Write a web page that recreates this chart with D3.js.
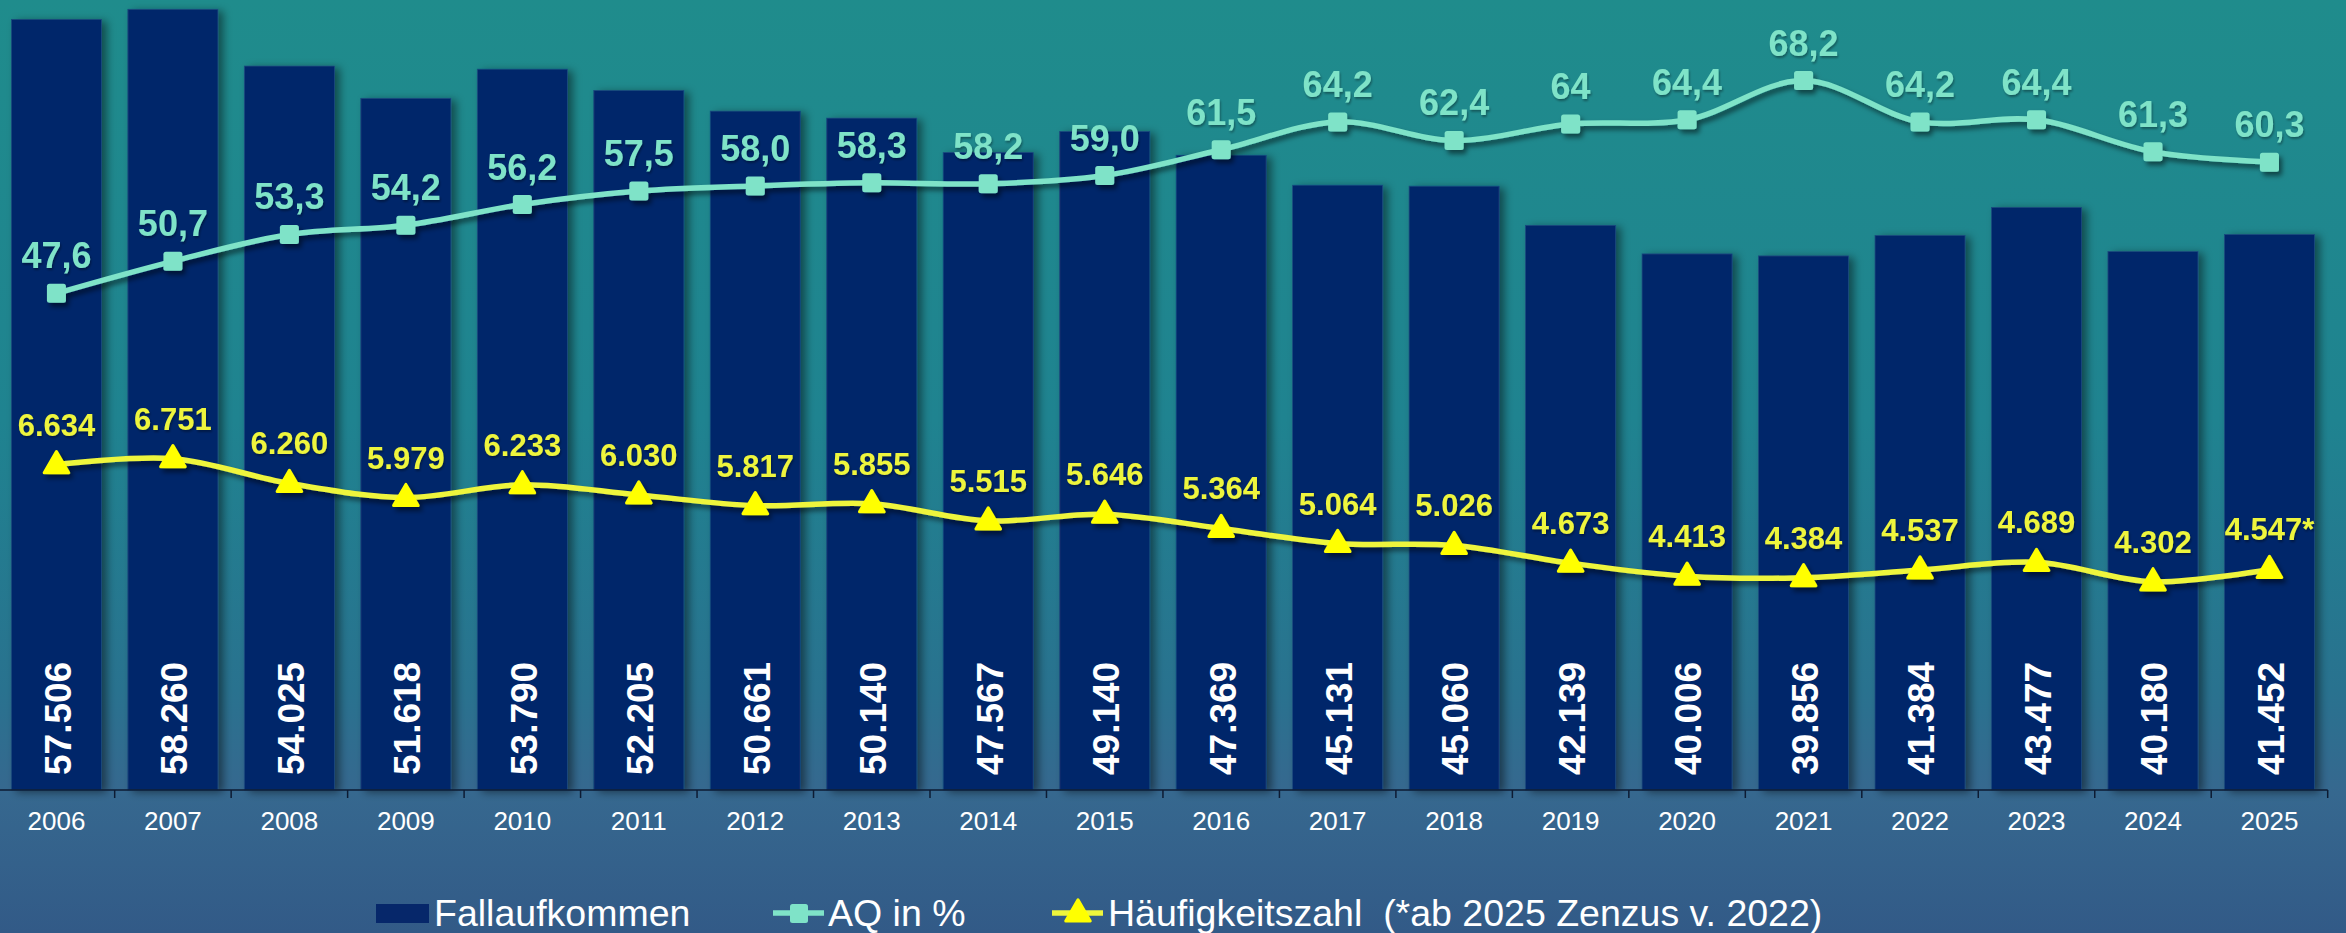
<!DOCTYPE html>
<html>
<head>
<meta charset="utf-8">
<script src="https://cdn.jsdelivr.net/npm/d3@7"></script>
<style>
  html, body { margin: 0; padding: 0; overflow: hidden; }
  svg { display: block; font-family: "Liberation Sans", Arial, sans-serif; }
  .narrow { font-family: "Liberation Sans Narrow", "Arial Narrow", "Liberation Sans", sans-serif; }
</style>
</head>
<body>
<div id="chart"></div>
<script>
// --- data ---
var years = ['2006', '2007', '2008', '2009', '2010', '2011', '2012', '2013', '2014', '2015',
             '2016', '2017', '2018', '2019', '2020', '2021', '2022', '2023', '2024', '2025'];
var fallaufkommen = [57506, 58260, 54025, 51618, 53790, 52205, 50661, 50140, 47567, 49140,
                     47369, 45131, 45060, 42139, 40006, 39856, 41384, 43477, 40180, 41452];
var aq = [47.6, 50.7, 53.3, 54.2, 56.2, 57.5, 58.0, 58.3, 58.2, 59.0,
          61.5, 64.2, 62.4, 64.0, 64.4, 68.2, 64.2, 64.4, 61.3, 60.3];
var aqLabels = ['47,6', '50,7', '53,3', '54,2', '56,2', '57,5', '58,0', '58,3', '58,2', '59,0',
                '61,5', '64,2', '62,4', '64', '64,4', '68,2', '64,2', '64,4', '61,3', '60,3'];
var haeufigkeit = [6634, 6751, 6260, 5979, 6233, 6030, 5817, 5855, 5515, 5646,
                   5364, 5064, 5026, 4673, 4413, 4384, 4537, 4689, 4302, 4547];
var haeufigkeitNote = ['', '', '', '', '', '', '', '', '', '', '', '', '', '', '', '', '', '', '', '*'];
var legendNames = ['Fallaufkommen', 'AQ in %', 'Häufigkeitszahl  (*ab 2025 Zenzus v. 2022)'];

// --- setup ---
var width = 2346, height = 933;
var baseline = 790;
var barColor = '#06276a', aqColor = '#7fe3c8', hzLine = '#eef53c', hzMarker = '#ffff00';

var de = d3.formatLocale({decimal: ',', thousands: '.', grouping: [3], currency: ['', ' €']});
var fmt = de.format(',');

var svg = d3.select('#chart').append('svg')
  .attr('width', width)
  .attr('height', height);

var defs = svg.append('defs');

var grad = defs.append('linearGradient')
  .attr('id', 'bg').attr('x1', 0).attr('y1', 0).attr('x2', 0).attr('y2', 1);
[['0%', '#1f8c8c'], ['45%', '#1f8390'], ['74%', '#29728f'], ['85%', '#36688f'], ['100%', '#325a87']]
  .forEach(function(s) { grad.append('stop').attr('offset', s[0]).attr('stop-color', s[1]); });

function shadow(id, dx, dy, sd, op) {
  defs.append('filter').attr('id', id)
    .attr('x', '-30%').attr('y', '-30%').attr('width', '160%').attr('height', '160%')
    .append('feDropShadow')
    .attr('dx', dx).attr('dy', dy).attr('stdDeviation', sd)
    .attr('flood-color', '#000').attr('flood-opacity', op);
}
shadow('barShadow', 5, 2, 4, 0.45);
shadow('lineShadow', 3, 4, 2.5, 0.5);
shadow('textShadow', 1, 2, 1.2, 0.35);

svg.append('rect').attr('width', width).attr('height', height).attr('fill', 'url(#bg)');

// --- scales ---
var pad = 0.227;
var x = d3.scaleBand().domain(years).range([-1.8, 2327.7]).paddingInner(pad).paddingOuter(pad / 2);
var step = x.step();
var yBar = d3.scaleLinear().domain([0, 60000]).range([baseline, baseline - 60000 * 0.0134]);
var yAq = d3.scaleLinear().domain([0, 76]).range([785, 0]);
var yHz = d3.scaleLinear().domain([0, 15800]).range([798, 4]);
var cx = function(i) { return x(years[i]) + x.bandwidth() / 2; };

// --- bars ---
svg.append('g').attr('filter', 'url(#barShadow)')
  .selectAll('rect').data(fallaufkommen).enter().append('rect')
  .attr('x', function(d, i) { return x(years[i]); })
  .attr('y', function(d) { return yBar(d); })
  .attr('width', x.bandwidth())
  .attr('height', function(d) { return baseline - yBar(d); })
  .attr('fill', barColor)
  .attr('stroke', '#184a7e').attr('stroke-width', 0.8);

svg.append('g').selectAll('text').data(fallaufkommen).enter().append('text')
  .attr('transform', function(d, i) { return 'translate(' + (cx(i) + 1) + ',' + (baseline - 15) + ') rotate(-90)'; })
  .attr('dy', '0.36em')
  .attr('fill', '#fff')
  .attr('font-size', 37).attr('font-weight', 'bold')
  .text(function(d) { return fmt(d); });

// --- x axis ---
var axis = svg.append('g');
axis.append('line')
  .attr('x1', 0).attr('x2', x.range()[1]).attr('y1', baseline).attr('y2', baseline)
  .attr('stroke', '#0d1b33').attr('stroke-width', 1.5);
var bounds = years.map(function(d) { return x(d) - step * pad / 2; }).concat([x.range()[1]]);
axis.selectAll('line.tick').data(bounds).enter().append('line')
  .attr('class', 'tick')
  .attr('x1', function(d) { return d; }).attr('x2', function(d) { return d; })
  .attr('y1', baseline).attr('y2', baseline + 8)
  .attr('stroke', '#0d1b33').attr('stroke-width', 1.5);
axis.selectAll('text').data(years).enter().append('text')
  .attr('x', function(d, i) { return cx(i); })
  .attr('y', 830)
  .attr('text-anchor', 'middle')
  .attr('fill', '#fff').attr('font-size', 26)
  .text(function(d) { return d; });

// --- AQ line ---
var curve = d3.curveCatmullRom.alpha(0.5);
var aqLine = d3.line().x(function(d, i) { return cx(i); }).y(function(d) { return yAq(d); }).curve(curve);
var gAq = svg.append('g').attr('filter', 'url(#lineShadow)');
gAq.append('path').datum(aq)
  .attr('d', aqLine).attr('fill', 'none')
  .attr('stroke', aqColor).attr('stroke-width', 5.5);
gAq.selectAll('rect').data(aq).enter().append('rect')
  .attr('x', function(d, i) { return cx(i) - 9.5; })
  .attr('y', function(d) { return yAq(d) - 9.5; })
  .attr('width', 19).attr('height', 19).attr('rx', 2.5)
  .attr('fill', aqColor);
svg.append('g').attr('filter', 'url(#textShadow)')
  .selectAll('text').data(aq).enter().append('text')
  .attr('class', 'narrow')
  .attr('x', function(d, i) { return cx(i); })
  .attr('y', function(d) { return yAq(d) - 25; })
  .attr('text-anchor', 'middle')
  .attr('fill', aqColor).attr('font-size', 36).attr('font-weight', 'bold')
  .text(function(d, i) { return aqLabels[i]; });

// --- Häufigkeitszahl line ---
var hzPath = d3.line().x(function(d, i) { return cx(i); }).y(function(d) { return yHz(d); }).curve(curve);
var tri = d3.symbol().type(d3.symbolTriangle).size(260);
var gHz = svg.append('g').attr('filter', 'url(#lineShadow)');
gHz.append('path').datum(haeufigkeit)
  .attr('d', hzPath).attr('fill', 'none')
  .attr('stroke', hzLine).attr('stroke-width', 5.5);
gHz.selectAll('path.marker').data(haeufigkeit).enter().append('path')
  .attr('class', 'marker')
  .attr('d', tri)
  .attr('transform', function(d, i) { return 'translate(' + cx(i) + ',' + (yHz(d) + 1) + ')'; })
  .attr('fill', hzMarker)
  .attr('stroke', hzMarker).attr('stroke-width', 3).attr('stroke-linejoin', 'round');
svg.append('g').attr('filter', 'url(#textShadow)')
  .selectAll('text').data(haeufigkeit).enter().append('text')
  .attr('x', function(d, i) { return cx(i); })
  .attr('y', function(d) { return yHz(d) - 29; })
  .attr('text-anchor', 'middle')
  .attr('fill', hzLine).attr('font-size', 31).attr('font-weight', 'bold')
  .text(function(d, i) { return fmt(d) + haeufigkeitNote[i]; });

// --- legend ---
var legend = svg.append('g').attr('font-size', 37.5).attr('fill', '#fff');
legend.append('rect').attr('x', 376).attr('y', 904).attr('width', 53).attr('height', 19).attr('fill', barColor);
legend.append('text').attr('x', 434).attr('y', 926).text(legendNames[0]);

legend.append('line').attr('x1', 773).attr('x2', 824).attr('y1', 913).attr('y2', 913)
  .attr('stroke', aqColor).attr('stroke-width', 5.5);
legend.append('rect').attr('x', 790).attr('y', 904).attr('width', 18).attr('height', 19).attr('rx', 2.5)
  .attr('fill', aqColor);
legend.append('text').attr('x', 828).attr('y', 926).text(legendNames[1]);

legend.append('line').attr('x1', 1052).attr('x2', 1103).attr('y1', 913).attr('y2', 913)
  .attr('stroke', hzLine).attr('stroke-width', 5.5);
legend.append('path').attr('d', tri)
  .attr('transform', 'translate(1078,914)')
  .attr('fill', hzMarker).attr('stroke', hzMarker).attr('stroke-width', 3).attr('stroke-linejoin', 'round');
legend.append('text').attr('x', 1108).attr('y', 926)
  .style('white-space', 'pre')
  .text(legendNames[2]);
</script>
</body>
</html>
